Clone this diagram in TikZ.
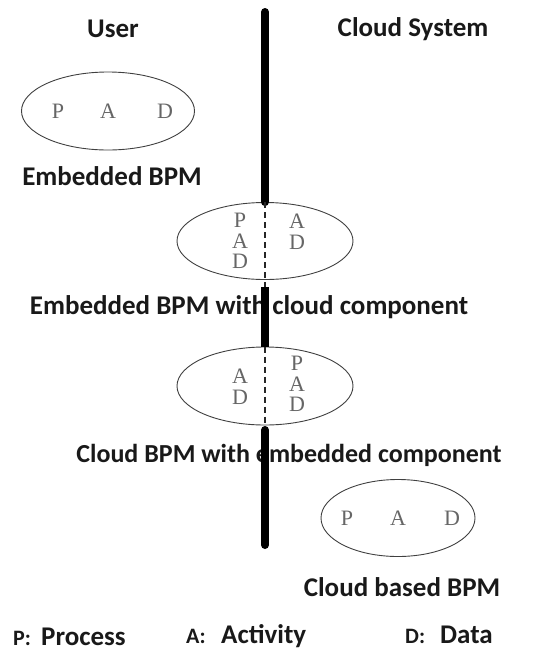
\documentclass[tikz,border=0pt]{standalone}
\usepackage{fontspec}
\setmainfont{Carlito}
\newfontfamily\padfont{Liberation Serif}
\usetikzlibrary{shapes.geometric}
\begin{document}
\begin{tikzpicture}[x=1pt,y=-1pt,
  lbl/.style={font=\fontsize{27}{30}\selectfont\bfseries,text=black!90,inner sep=0pt},
  keyl/.style={font=\fontsize{22}{26}\selectfont\bfseries,text=black!90,inner sep=0pt,anchor=base west},
  keyt/.style={font=\fontsize{27}{30}\selectfont\bfseries,text=black!90,inner sep=0pt,anchor=base west},
  pad/.style={font=\padfont\fontsize{22}{20.5}\selectfont,text=black!60,align=center,inner sep=0pt},
  bpm/.style={draw=black!75,line width=0.9pt,ellipse,minimum width=176pt,minimum height=77pt,inner sep=0pt},
  axis/.style={line width=8pt,black},
  split/.style={dash pattern=on 6pt off 4pt,line width=1.2pt,black!85}]
\useasboundingbox (0,0) rectangle (535,654);
% headings
\node[lbl] (user) at (113,29) {User};
\node[lbl] (cloud) at (413,29) {Cloud System};
% embedded BPM
\node[bpm,minimum width=173pt,minimum height=78pt] (e1) at (108,111) {};
\node[pad] (p1) at (58,111) {P};
\node[pad] (a1) at (108,111) {A};
\node[pad] (d1) at (165,111) {D};
\node[lbl] (l1) at (112,176) {Embedded BPM};
% embedded BPM with cloud component
\node[bpm] (e2) at (265,241) {};
\node[pad] (u2) at (240,241) {P\\A\\D};
\node[pad] (c2) at (297,232) {A\\D};
\node[lbl] (l2) at (249,307) {Embedded BPM with cloud component};
% cloud BPM with embedded component
\node[bpm,minimum height=78pt] (e3) at (265,386) {};
\node[pad] (u3) at (240,387) {A\\D};
\node[pad] (c3) at (297,384) {P\\A\\D};
\node[lbl,font=\fontsize{26}{30}\selectfont\bfseries] (l3) at (289,455) {Cloud BPM with embedded component};
% cloud based BPM
\node[bpm,minimum width=154pt,minimum height=77pt] (e4) at (398,518) {};
\node[pad] (p4) at (347,518) {P};
\node[pad] (a4) at (398,518) {A};
\node[pad] (d4) at (452,518) {D};
\node[lbl] (l4) at (402,587) {Cloud based BPM};
% dividing line
\coordinate (top) at (265,12);
\coordinate (m1) at (265,287);
\coordinate (m2) at (265,430);
\coordinate (bot) at (265,545);
\draw[axis,line cap=round] (top) -- (e2.north);
\draw[split] (e2.north) -- (m1);
\draw[axis] (m1) -- (e3.north);
\draw[split] (e3.north) -- (m2);
\draw[axis,line cap=round] (m2) -- (bot);
% key
\node[keyl] (kp) at (13,645) {P:};
\node[keyt] (kpt) at (41,645) {Process};
\node[keyl] (ka) at (186,643) {A:};
\node[keyt] (kat) at (221,643) {Activity};
\node[keyl] (kd) at (405,643) {D:};
\node[keyt] (kdt) at (440,643) {Data};
\end{tikzpicture}
\end{document}
